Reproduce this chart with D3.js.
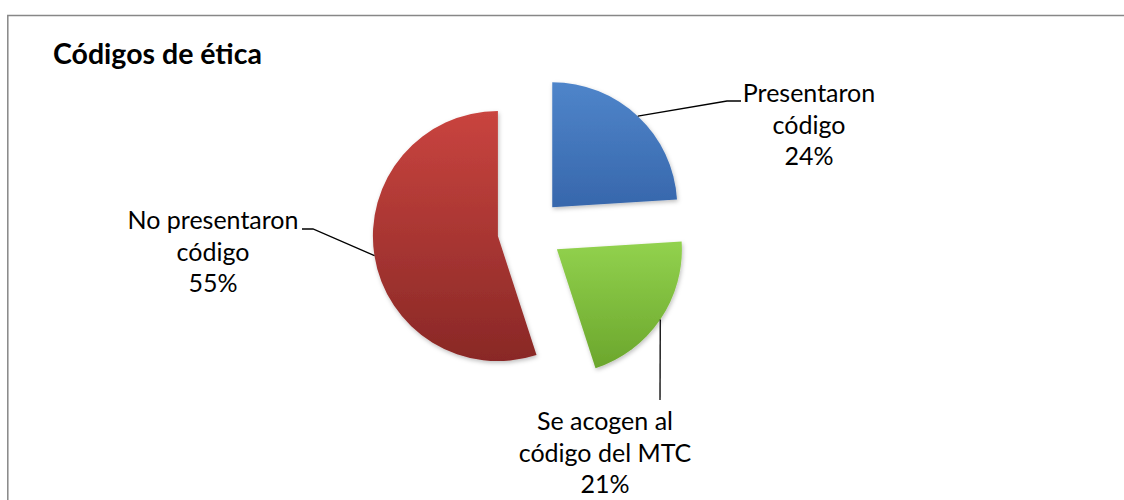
<!DOCTYPE html>
<html>
<head>
<meta charset="utf-8">
<script src="https://cdn.jsdelivr.net/npm/d3@7"></script>
<style>
  html, body { margin: 0; padding: 0; background: #fff; }
  svg { display: block; font-family: Lato, "Open Sans", sans-serif; }
</style>
</head>
<body>
<div id="chart"></div>
<script>
// data
var categories = ['Presentaron código', 'Se acogen al código del MTC', 'No presentaron código'];
var values = [24, 21, 55];
var labelLines = [
  ['Presentaron', 'código', '24%'],
  ['Se acogen al', 'código del MTC', '21%'],
  ['No presentaron', 'código', '55%']
];

var width = 1124, height = 500;
var cx = 530, cy = 231, radius = 125, explode = 32.5;

// label anchors: text centre, first baseline, leader elbow/end
var labelLayout = [
  {x: 809, y: 102, path: [[727, 101], [741, 101]]},
  {x: 605, y: 430, path: [[660, 400]]},
  {x: 213, y: 229, path: [[313, 229], [302, 229]]}
];

var gradients = [
  ['#4f85ca', '#3767ac'],
  ['#92d24e', '#6ba62c'],
  ['#c9443f', '#892826']
];

var svg = d3.select('#chart').append('svg')
    .attr('width', width)
    .attr('height', height);

var defs = svg.append('defs');
gradients.forEach(function(g, i) {
  var lg = defs.append('linearGradient')
      .attr('id', 'grad' + i)
      .attr('x1', 0).attr('y1', 0).attr('x2', 0).attr('y2', 1);
  lg.append('stop').attr('offset', '0%').attr('stop-color', g[0]);
  lg.append('stop').attr('offset', '100%').attr('stop-color', g[1]);
});
var shadow = defs.append('filter').attr('id', 'shadow')
    .attr('x', '-20%').attr('y', '-20%').attr('width', '140%').attr('height', '140%');
shadow.append('feDropShadow')
    .attr('dx', 1).attr('dy', 2).attr('stdDeviation', 2)
    .attr('flood-color', '#000').attr('flood-opacity', 0.25);

// frame (left and top edges only visible)
svg.append('path')
    .attr('d', 'M7.8,' + height + 'V15.5H' + width)
    .attr('fill', 'none')
    .attr('stroke', '#878787')
    .attr('stroke-width', 1.5);

svg.append('text')
    .attr('x', 53)
    .attr('y', 64)
    .attr('font-weight', 'bold')
    .attr('font-size', 28.5)
    .attr('fill', '#000')
    .text('Códigos de ética');

var pie = d3.pie().sort(null).value(function(d) { return d; });
var arcs = pie(values);
var arc = d3.arc().innerRadius(0).outerRadius(radius);

function offsetOf(d) {
  var mid = (d.startAngle + d.endAngle) / 2;
  return [cx + explode * Math.sin(mid), cy - explode * Math.cos(mid)];
}

var g = svg.append('g');
g.selectAll('path.slice')
  .data(arcs)
  .enter()
  .append('path')
    .attr('class', 'slice')
    .attr('transform', function(d) { var o = offsetOf(d); return 'translate(' + o[0] + ',' + o[1] + ')'; })
    .attr('d', arc)
    .attr('fill', function(d, i) { return 'url(#grad' + i + ')'; })
    .attr('filter', 'url(#shadow)');

// leader lines and labels
var line = d3.line();
arcs.forEach(function(d, i) {
  var o = offsetOf(d);
  var mid = (d.startAngle + d.endAngle) / 2;
  var start = [o[0] + radius * Math.sin(mid), o[1] - radius * Math.cos(mid)];
  svg.append('path')
      .attr('d', line([start].concat(labelLayout[i].path)))
      .attr('fill', 'none')
      .attr('stroke', '#000')
      .attr('stroke-width', 1.3);

  var t = svg.append('text')
      .attr('text-anchor', 'middle')
      .attr('font-size', 25)
      .attr('fill', '#000');
  labelLines[i].forEach(function(s, k) {
    t.append('tspan')
        .attr('x', labelLayout[i].x)
        .attr('y', labelLayout[i].y + k * 31.5)
        .text(s);
  });
});
</script>
</body>
</html>
